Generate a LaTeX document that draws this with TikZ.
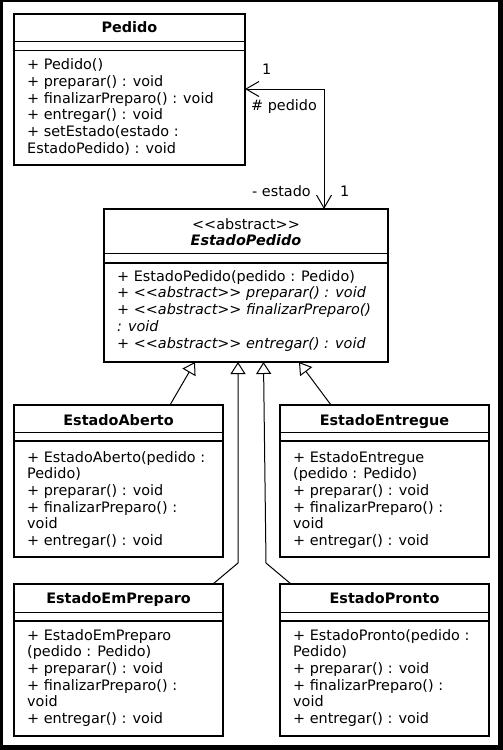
\documentclass[tikz,border=0pt]{standalone}
\usepackage{fontspec}
\setmainfont{DejaVu Sans}
\usetikzlibrary{arrows.meta,calc}
\begin{document}
\begin{tikzpicture}[x=1pt,y=-1pt,
  cls/.style={draw, line width=2pt, inner sep=0pt, outer sep=0pt, anchor=north west, fill=white},
  sepa/.style={line width=1pt},
  sepb/.style={line width=1.4pt},
  txt/.style={anchor=base west, inner sep=0pt, font=\fontsize{14.4}{17}\selectfont},
  ttl/.style={anchor=base, inner sep=0pt, font=\fontsize{14.4}{17}\selectfont\bfseries},
  lbl/.style={anchor=base west, inner sep=0pt, font=\fontsize{14.4}{17}\selectfont},
  assoc/.style={line width=1pt, {Straight Barb[length=13pt,width=15pt]}-{Straight Barb[length=13pt,width=15pt]}},
  gen/.style={line width=1pt, -{Triangle[open,length=12pt,width=15pt,fill=white]}}
]
\useasboundingbox (0,0) rectangle (503,750);
\fill[black] (0,0) rectangle (503,750);
\fill[white] (3,1.5) rectangle (498,745);

% ---------- Pedido ----------
\node[cls, minimum width=231pt, minimum height=151pt] (ped) at (14,14) {};
\draw[sepa] ($(ped.north west)+(0,27)$) -- ($(ped.north east)+(0,27)$);
\draw[sepb] ($(ped.north west)+(0,36.5)$) -- ($(ped.north east)+(0,36.5)$);
\node[ttl] (pedT) at (129.5,32.5) {Pedido};
\node[txt] (ped1) at (27,69.5) {+ Pedido()};
\node[txt] (ped2) at (27,86.3) {+ preparar() : void};
\node[txt] (ped3) at (27,103.1) {+ finalizarPreparo() : void};
\node[txt] (ped4) at (27,119.9) {+ entregar() : void};
\node[txt] (ped5) at (27,136.7) {+ setEstado(estado :};
\node[txt] (ped6) at (27,153.5) {EstadoPedido) : void};

% ---------- EstadoPedido ----------
\node[cls, minimum width=284pt, minimum height=153pt] (ep) at (104,209) {};
\draw[sepa] ($(ep.north west)+(0,44)$) -- ($(ep.north east)+(0,44)$);
\draw[sepb] ($(ep.north west)+(0,54)$) -- ($(ep.north east)+(0,54)$);
\node[ttl, font=\fontsize{14.4}{17}\selectfont] (epS) at (246,229) {<{}<abstract>{}>};
\node[ttl, font=\fontsize{14.4}{17}\selectfont\bfseries\itshape] (epT) at (246,245) {EstadoPedido};
\node[txt] (ep1) at (117,281) {+ EstadoPedido(pedido : Pedido)};
\node[txt, font=\fontsize{14.4}{17}\selectfont\itshape] (ep2) at (117,297.8) {+ <{}<abstract>{}> preparar() : void};
\node[txt, font=\fontsize{14.4}{17}\selectfont\itshape] (ep3) at (117,314.6) {+ <{}<abstract>{}> finalizarPreparo()};
\node[txt, font=\fontsize{14.4}{17}\selectfont\itshape] (ep4) at (117,331.4) {: void};
\node[txt, font=\fontsize{14.4}{17}\selectfont\itshape] (ep5) at (117,348.2) {+ <{}<abstract>{}> entregar() : void};

% ---------- EstadoAberto ----------
\node[cls, minimum width=209pt, minimum height=152pt] (ab) at (14,405) {};
\draw[sepa] ($(ab.north west)+(0,27)$) -- ($(ab.north east)+(0,27)$);
\draw[sepb] ($(ab.north west)+(0,36)$) -- ($(ab.north east)+(0,36)$);
\node[ttl] (abT) at (118.5,425) {EstadoAberto};
\node[txt] (ab1) at (27,462) {+ EstadoAberto(pedido :};
\node[txt] (ab2) at (27,478.7) {Pedido)};
\node[txt] (ab3) at (27,495.4) {+ preparar() : void};
\node[txt] (ab4) at (27,512.1) {+ finalizarPreparo() :};
\node[txt] (ab5) at (27,528.8) {void};
\node[txt] (ab6) at (27,545.5) {+ entregar() : void};

% ---------- EstadoEntregue ----------
\node[cls, minimum width=209pt, minimum height=152pt] (en) at (280,405) {};
\draw[sepa] ($(en.north west)+(0,27)$) -- ($(en.north east)+(0,27)$);
\draw[sepb] ($(en.north west)+(0,36)$) -- ($(en.north east)+(0,36)$);
\node[ttl] (enT) at (384.5,425) {EstadoEntregue};
\node[txt] (en1) at (293,462) {+ EstadoEntregue};
\node[txt] (en2) at (293,478.7) {(pedido : Pedido)};
\node[txt] (en3) at (293,495.4) {+ preparar() : void};
\node[txt] (en4) at (293,512.1) {+ finalizarPreparo() :};
\node[txt] (en5) at (293,528.8) {void};
\node[txt] (en6) at (293,545.5) {+ entregar() : void};

% ---------- EstadoEmPreparo ----------
\node[cls, minimum width=209pt, minimum height=152pt] (em) at (14,584) {};
\draw[sepa] ($(em.north west)+(0,28)$) -- ($(em.north east)+(0,28)$);
\draw[sepb] ($(em.north west)+(0,37)$) -- ($(em.north east)+(0,37)$);
\node[ttl] (emT) at (118.5,603.5) {EstadoEmPreparo};
\node[txt] (em1) at (27,640) {+ EstadoEmPreparo};
\node[txt] (em2) at (27,656.7) {(pedido : Pedido)};
\node[txt] (em3) at (27,673.4) {+ preparar() : void};
\node[txt] (em4) at (27,690.1) {+ finalizarPreparo() :};
\node[txt] (em5) at (27,706.8) {void};
\node[txt] (em6) at (27,723.5) {+ entregar() : void};

% ---------- EstadoPronto ----------
\node[cls, minimum width=209pt, minimum height=152pt] (pr) at (280,584) {};
\draw[sepa] ($(pr.north west)+(0,28)$) -- ($(pr.north east)+(0,28)$);
\draw[sepb] ($(pr.north west)+(0,37)$) -- ($(pr.north east)+(0,37)$);
\node[ttl] (prT) at (384.5,603.5) {EstadoPronto};
\node[txt] (pr1) at (293,640) {+ EstadoPronto(pedido :};
\node[txt] (pr2) at (293,656.7) {Pedido)};
\node[txt] (pr3) at (293,673.4) {+ preparar() : void};
\node[txt] (pr4) at (293,690.1) {+ finalizarPreparo() :};
\node[txt] (pr5) at (293,706.8) {void};
\node[txt] (pr6) at (293,723.5) {+ entregar() : void};

% ---------- association ----------
\coordinate (aPed) at ($(ped.north east)+(0,75)$);
\coordinate (aEp) at ($(ep.north west)+(220,0)$);
\draw[assoc] (aPed) -| (aEp);
\node[lbl] (m1) at (262,74) {1};
\node[lbl] (r1) at (251,110) {\# pedido};
\node[lbl] (r2) at (252,196) {- estado};
\node[lbl] (m2) at (340,196) {1};

% ---------- generalizations ----------
\coordinate (t1) at ($(ep.south west)+(91,0)$);
\coordinate (t2) at ($(ep.south west)+(134,0)$);
\coordinate (t3) at ($(ep.south west)+(159.5,0)$);
\coordinate (t4) at ($(ep.south west)+(195,0)$);
\coordinate (b2) at (238,563);
\coordinate (b3) at (266,563);
\draw[gen] ($(ab.north west)+(156,0)$) -- (t1);
\draw[gen] ($(em.north west)+(199,0)$) -- (b2) -- (t2);
\draw[gen] ($(pr.north west)+(11,0)$) -- (b3) -- (t3);
\draw[gen] ($(en.north west)+(51,0)$) -- (t4);
\end{tikzpicture}
\end{document}
